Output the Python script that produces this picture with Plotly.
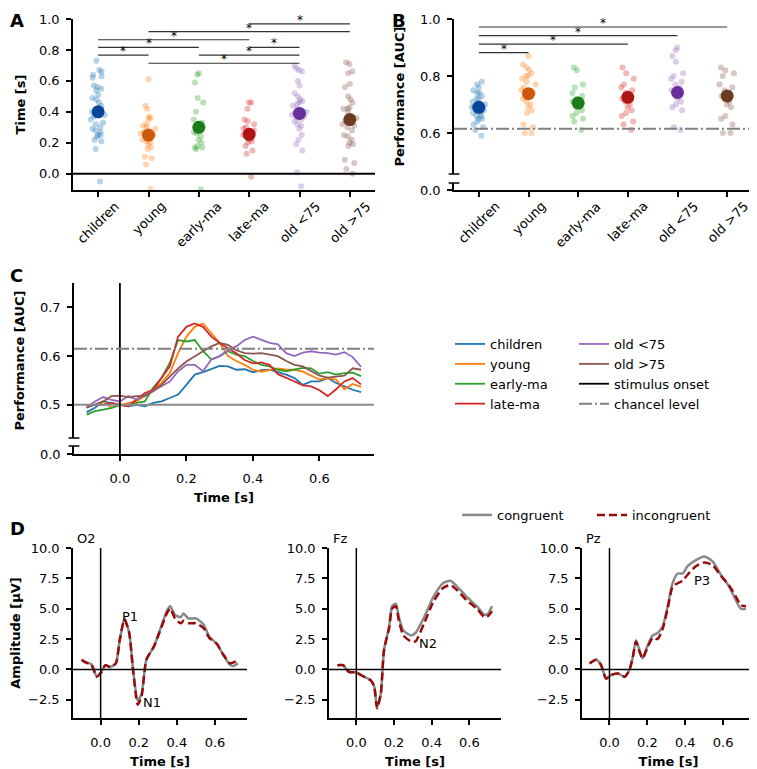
import plotly.graph_objects as go

W, H = 757, 769
OFF = 8  # the page body puts the figure 8 px in from the top-left corner
WF, HF = W - OFF, H - OFF

groups = ['children', 'young', 'early-ma', 'late-ma', 'old <75', 'old >75']
light = ['#1f77b4', '#ff7f0e', '#2ca02c', '#d62728', '#9467bd', '#8c564b']
dark = ['#08449c', '#cc5a0a', '#1b7c1b', '#b01515', '#6a2d9c', '#6b3c1f']

# panel A: peak time per subject [s]
children_time = [0.73, 0.67, 0.66, 0.64, 0.63, 0.62, 0.57, 0.56, 0.55, 0.54, 0.51, 0.49, 0.48, 0.46, 0.44,
                 0.42, 0.41, 0.40, 0.39, 0.38, 0.37, 0.35, 0.33, 0.32, 0.30, 0.29, 0.28, 0.27, 0.25, 0.25,
                 0.24, 0.22, 0.21, 0.16, -0.05]
young_time = [0.61, 0.44, 0.42, 0.37, 0.36, 0.35, 0.32, 0.31, 0.30, 0.29, 0.27, 0.26, 0.25, 0.24, 0.23,
              0.22, 0.21, 0.20, 0.19, 0.17, 0.16, 0.11, 0.10, 0.06, -0.10]
early_time = [0.65, 0.64, 0.59, 0.49, 0.46, 0.40, 0.35, 0.33, 0.31, 0.29, 0.27, 0.26, 0.24, 0.22, 0.20,
              0.18, 0.17, 0.16, 0.17, -0.10]
late_time = [0.46, 0.46, 0.42, 0.35, 0.34, 0.32, 0.30, 0.29, 0.28, 0.27, 0.26, 0.25, 0.24, 0.23, 0.22,
             0.21, 0.20, 0.18, 0.15, 0.13, -0.02]
old1_time = [0.70, 0.68, 0.67, 0.66, 0.60, 0.57, 0.52, 0.50, 0.48, 0.47, 0.46, 0.45, 0.44, 0.42, 0.40,
             0.39, 0.38, 0.37, 0.36, 0.35, 0.34, 0.32, 0.31, 0.29, 0.25, 0.22, 0.19, 0.15, 0.01, -0.08]
old2_time = [0.72, 0.71, 0.66, 0.65, 0.58, 0.56, 0.50, 0.48, 0.46, 0.43, 0.42, 0.42, 0.40, 0.36, 0.34,
             0.32, 0.31, 0.30, 0.28, 0.25, 0.24, 0.22, 0.20, 0.19, 0.18, 0.09, 0.07, 0.03, 0.00]
mean_time = [0.40, 0.25, 0.30, 0.255, 0.39, 0.35]

# significance bars A: from group, to group, height
sig_a_from = [3, 1, 0, 0, 3, 0, 2, 1]
sig_a_to = [5, 5, 3, 2, 4, 1, 4, 4]
sig_a_y = [0.968, 0.918, 0.866, 0.816, 0.816, 0.766, 0.766, 0.714]

# panel B: peak performance per subject [AUC]
children_perf = [0.78, 0.77, 0.76, 0.75, 0.74, 0.74, 0.73, 0.72, 0.72, 0.71, 0.70, 0.70, 0.69, 0.69, 0.68,
                 0.68, 0.67, 0.67, 0.66, 0.66, 0.65, 0.65, 0.64, 0.63, 0.62, 0.61, 0.59]
young_perf = [0.87, 0.84, 0.83, 0.82, 0.81, 0.80, 0.80, 0.79, 0.78, 0.77, 0.76, 0.75, 0.74, 0.74, 0.73,
              0.72, 0.71, 0.70, 0.69, 0.68, 0.67, 0.63, 0.62, 0.60, 0.60]
early_perf = [0.83, 0.82, 0.77, 0.76, 0.74, 0.73, 0.72, 0.71, 0.71, 0.70, 0.70, 0.69, 0.68, 0.67, 0.66,
              0.65, 0.64, 0.61]
late_perf = [0.83, 0.81, 0.79, 0.77, 0.76, 0.75, 0.74, 0.73, 0.72, 0.71, 0.70, 0.69, 0.68, 0.67, 0.66,
             0.64, 0.63, 0.61]
old1_perf = [0.90, 0.89, 0.87, 0.85, 0.81, 0.80, 0.79, 0.78, 0.77, 0.76, 0.75, 0.74, 0.73, 0.72, 0.71,
             0.70, 0.69, 0.68, 0.62, 0.61]
old2_perf = [0.83, 0.82, 0.81, 0.80, 0.77, 0.76, 0.75, 0.74, 0.73, 0.72, 0.71, 0.70, 0.69, 0.66, 0.65,
             0.63, 0.60, 0.60]
mean_perf = [0.69, 0.738, 0.705, 0.725, 0.742, 0.73]
chance_level = 0.615

sig_b_from = [0, 0, 0, 0]
sig_b_to = [5, 4, 3, 1]
sig_b_y = [0.972, 0.942, 0.912, 0.882]

# panel C: decoding time course
t_c = [-0.1, -0.075, -0.05, -0.025, 0.0, 0.025, 0.05, 0.075, 0.1, 0.125, 0.15, 0.175, 0.2, 0.225, 0.25,
       0.275, 0.3, 0.325, 0.35, 0.375, 0.4, 0.425, 0.45, 0.475, 0.5, 0.525, 0.55, 0.575, 0.6, 0.625,
       0.65, 0.675, 0.7, 0.725]
children_c = [0.485, 0.494, 0.507, 0.504, 0.500, 0.497, 0.500, 0.497, 0.504, 0.507, 0.514, 0.521, 0.541,
              0.562, 0.567, 0.573, 0.580, 0.579, 0.572, 0.573, 0.567, 0.571, 0.572, 0.567, 0.562, 0.555,
              0.541, 0.548, 0.548, 0.555, 0.545, 0.538, 0.531, 0.526]
young_c = [0.497, 0.500, 0.507, 0.494, 0.500, 0.504, 0.507, 0.518, 0.531, 0.545, 0.565, 0.606, 0.640,
           0.660, 0.667, 0.647, 0.627, 0.600, 0.590, 0.582, 0.572, 0.568, 0.572, 0.575, 0.572, 0.572,
           0.568, 0.560, 0.552, 0.555, 0.552, 0.532, 0.543, 0.537]
early_c = [0.480, 0.487, 0.490, 0.494, 0.500, 0.498, 0.504, 0.507, 0.535, 0.555, 0.586, 0.633, 0.630,
           0.633, 0.610, 0.593, 0.600, 0.610, 0.603, 0.600, 0.590, 0.582, 0.579, 0.572, 0.569, 0.572,
           0.576, 0.575, 0.564, 0.567, 0.562, 0.565, 0.566, 0.559]
late_c = [0.497, 0.500, 0.500, 0.504, 0.500, 0.497, 0.511, 0.524, 0.531, 0.555, 0.579, 0.640, 0.660,
          0.667, 0.660, 0.640, 0.627, 0.616, 0.606, 0.592, 0.585, 0.587, 0.582, 0.563, 0.556, 0.548,
          0.540, 0.538, 0.530, 0.518, 0.532, 0.548, 0.555, 0.542]
old1_c = [0.494, 0.507, 0.516, 0.510, 0.507, 0.518, 0.511, 0.520, 0.528, 0.538, 0.548, 0.569, 0.582,
          0.582, 0.569, 0.593, 0.600, 0.612, 0.620, 0.633, 0.640, 0.634, 0.627, 0.624, 0.606, 0.600,
          0.607, 0.610, 0.607, 0.606, 0.603, 0.608, 0.598, 0.578]
old2_c = [0.494, 0.500, 0.507, 0.518, 0.519, 0.516, 0.518, 0.518, 0.528, 0.541, 0.558, 0.575, 0.589,
          0.600, 0.610, 0.620, 0.627, 0.623, 0.612, 0.606, 0.605, 0.606, 0.603, 0.600, 0.590, 0.582,
          0.579, 0.570, 0.560, 0.556, 0.558, 0.560, 0.575, 0.572]

# panel D: ERPs
channels = ['O2', 'Fz', 'Pz']
t_o2 = [-0.1, -0.075, -0.05, -0.02, 0.0, 0.025, 0.05, 0.08, 0.1, 0.125, 0.15, 0.17, 0.195, 0.215, 0.24,
        0.28, 0.31, 0.35, 0.365, 0.39, 0.42, 0.435, 0.46, 0.5, 0.54, 0.57, 0.61, 0.64, 0.68, 0.70, 0.72]
o2_con = [0.8, 0.55, 0.45, -0.6, -0.3, 0.35, 0.2, 0.5, 2.4, 4.2, 3.0, 0.0, -2.6, -2.0, 0.8, 1.9, 3.2,
          4.9, 5.2, 4.5, 4.3, 4.6, 4.2, 4.2, 3.7, 2.7, 2.1, 1.3, 0.36, 0.3, 0.5]
o2_inc = [0.8, 0.55, 0.45, -0.6, -0.3, 0.35, 0.2, 0.5, 2.4, 4.1, 3.0, 0.0, -2.9, -2.2, 0.8, 1.9, 3.1,
          4.7, 5.0, 4.2, 3.8, 4.0, 3.8, 3.8, 3.4, 2.6, 2.1, 1.3, 0.5, 0.6, 0.75]
t_fz = [-0.1, -0.07, -0.04, 0.0, 0.04, 0.077, 0.095, 0.11, 0.13, 0.147, 0.174, 0.19, 0.21, 0.226, 0.25,
        0.29, 0.314, 0.36, 0.41, 0.46, 0.5, 0.53, 0.585, 0.64, 0.68, 0.70, 0.72]
fz_con = [0.35, 0.35, -0.2, -0.25, -0.6, -0.9, -1.4, -3.1, -2.0, 1.6, 3.5, 5.2, 5.4, 4.3, 3.2, 2.8,
          3.0, 4.3, 6.0, 7.1, 7.3, 6.9, 6.0, 5.2, 4.5, 4.6, 5.2]
fz_inc = [0.35, 0.35, -0.2, -0.25, -0.6, -0.9, -1.4, -3.2, -2.0, 1.6, 3.4, 5.0, 5.2, 4.0, 2.8, 2.3,
          2.3, 3.8, 5.6, 6.7, 6.95, 6.6, 5.7, 5.0, 4.3, 4.4, 4.8]
t_pz = [-0.105, -0.07, -0.044, -0.018, 0.01, 0.044, 0.08, 0.105, 0.123, 0.14, 0.158, 0.175, 0.2, 0.228,
        0.254, 0.28, 0.307, 0.333, 0.36, 0.386, 0.412, 0.456, 0.5, 0.544, 0.588, 0.632, 0.667, 0.693, 0.72]
pz_con = [0.5, 0.8, 0.35, -0.75, -0.45, -0.33, -0.6, -0.05, 1.0, 2.4, 1.6, 0.9, 1.9, 2.8, 3.0, 3.5,
          5.2, 7.1, 7.9, 7.9, 8.5, 9.0, 9.3, 8.9, 7.8, 6.8, 5.7, 5.0, 5.0]
pz_inc = [0.5, 0.8, 0.35, -0.75, -0.45, -0.33, -0.6, -0.05, 1.0, 2.3, 1.5, 0.9, 1.8, 2.6, 2.5, 3.3,
          5.0, 6.8, 7.1, 7.3, 7.8, 8.5, 8.8, 8.6, 7.7, 6.9, 6.0, 5.3, 5.2]
peak_labels = ['P1', 'N1', 'N2', 'P3']
peak_t = [0.155, 0.27, 0.38, 0.49]
peak_v = [4.4, -2.7, 2.1, 7.35]
peak_panel = [0, 0, 1, 2]

time_a = [children_time, young_time, early_time, late_time, old1_time, old2_time]
perf_b = [children_perf, young_perf, early_perf, late_perf, old1_perf, old2_perf]
curves_c = [children_c, young_c, early_c, late_c, old1_c, old2_c]
legend_c = ['legend', 'legend', 'legend', 'legend', 'legend3', 'legend3']


def px(x):
    return (x - OFF) / WF


def py(y):
    return 1 - (y - OFF) / HF


def xd(a, b):
    return [px(a), px(b)]


def yd(top, bottom):
    return [py(bottom), py(top)]


ax = dict(showline=True, linewidth=1.5, linecolor='black', ticks='outside', ticklen=5, tickwidth=1.5,
          tickcolor='black', showgrid=False, zeroline=False, automargin=False, ticklabelstandoff=4,
          tickfont=dict(size=13, color='black'))
bold = dict(size=13, color='black')
dashdot = '13px,3px,2px,3px'

fig = go.Figure()

# A and B strips
for xa, ya, data, means in [('x', 'y', time_a, mean_time), ('x2', 'y2', perf_b, mean_perf)]:
    for i, g in enumerate(groups):
        fig.add_trace(go.Box(x=[g] * len(data[i]), y=data[i], xaxis=xa, yaxis=ya, boxpoints='all',
                             jitter=0.65, pointpos=0, fillcolor='rgba(0,0,0,0)', line=dict(width=0),
                             marker=dict(color=light[i], size=6, opacity=0.33), showlegend=False,
                             hoverinfo='y'))
    fig.add_trace(go.Scatter(x=groups, y=means, xaxis=xa, yaxis=ya, mode='markers',
                             marker=dict(color=dark, size=13), showlegend=False))

for xa, ya, f, t, h in [('x', 'y', sig_a_from, sig_a_to, sig_a_y), ('x2', 'y2', sig_b_from, sig_b_to, sig_b_y)]:
    for a, b, yy in zip(f, t, h):
        fig.add_trace(go.Scatter(x=[groups[a], groups[b]], y=[yy, yy], xaxis=xa, yaxis=ya, mode='lines',
                                 line=dict(color='#333333', width=1.2), showlegend=False, hoverinfo='skip'))
        fig.add_annotation(x=(a + b) / 2, y=yy, xref=xa, yref=ya, text='*', showarrow=False,
                           font=dict(size=12, color='black'), yanchor='middle', yshift=4)

# rotated group names, centred under the ticks
for xa, yb in [('x', 'y'), ('x2', 'y3')]:
    for g in groups:
        fig.add_annotation(x=g, y=0, xref=xa, yref=yb + ' domain', text=g, showarrow=False, textangle=-45,
                           xanchor='center', yanchor='top', yshift=-6, font=dict(size=13, color='black'))

# lower halves of the broken axes (B and C)
fig.add_trace(go.Scatter(x=[None], y=[None], xaxis='x2', yaxis='y3', showlegend=False, hoverinfo='skip'))
fig.add_trace(go.Scatter(x=[None], y=[None], xaxis='x3', yaxis='y5', showlegend=False, hoverinfo='skip'))

# C curves
for i, g in enumerate(groups):
    fig.add_trace(go.Scatter(x=t_c, y=curves_c[i], xaxis='x3', yaxis='y4', mode='lines', name=g,
                             line=dict(color=light[i], width=1.8), legend=legend_c[i]))

# D ERPs
erp_t = [t_o2, t_fz, t_pz]
erp_con = [o2_con, fz_con, pz_con]
erp_inc = [o2_inc, fz_inc, pz_inc]
for k in range(3):
    xa, ya = 'x%d' % (4 + k), 'y%d' % (6 + k)
    fig.add_trace(go.Scatter(x=erp_t[k], y=erp_con[k], xaxis=xa, yaxis=ya, mode='lines', name='congruent',
                             line=dict(color='#888888', width=2.5, shape='spline', smoothing=0.6),
                             legend='legend2', showlegend=(k == 0)))
    fig.add_trace(go.Scatter(x=erp_t[k], y=erp_inc[k], xaxis=xa, yaxis=ya, mode='lines', name='incongruent',
                             line=dict(color='#9b0a0a', width=2.5, dash='8px,4px', shape='spline', smoothing=0.6),
                             legend='legend2', showlegend=(k == 0)))
    fig.add_shape(type='line', xref=xa + ' domain', yref=ya, x0=0, x1=1, y0=0, y1=0,
                  line=dict(color='black', width=1.5))
    fig.add_shape(type='line', xref=xa, yref=ya + ' domain', x0=0, x1=0, y0=0, y1=1,
                  line=dict(color='black', width=1.5))
    fig.add_annotation(xref=xa + ' domain', yref=ya + ' domain', x=0.01, y=1, text=channels[k],
                       showarrow=False, xanchor='left', yanchor='bottom', font=dict(size=13, color='black'))

for lab, tt, vv, p in zip(peak_labels, peak_t, peak_v, peak_panel):
    fig.add_annotation(xref='x%d' % (4 + p), yref='y%d' % (6 + p), x=tt, y=vv, text=lab, showarrow=False,
                       font=dict(size=13, color='black'))

# reference lines
fig.add_shape(type='line', xref='x domain', yref='y', x0=0, x1=1, y0=0, y1=0, line=dict(color='black', width=2))
fig.add_shape(type='line', xref='x2 domain', yref='y2', x0=0, x1=1, y0=chance_level, y1=chance_level,
              line=dict(color='#808080', width=2, dash=dashdot))
fig.add_shape(type='line', xref='x3 domain', yref='y4', x0=0, x1=1, y0=0.5, y1=0.5,
              line=dict(color='#8c8c8c', width=2))
fig.add_shape(type='line', xref='x3', yref='paper', x0=0, x1=0, y0=py(454), y1=py(283),
              line=dict(color='black', width=1.8), showlegend=True, name='stimulus onset', legend='legend3')
fig.add_shape(type='line', xref='x3 domain', yref='y4', x0=0, x1=1, y0=chance_level, y1=chance_level,
              line=dict(color='#808080', width=2, dash=dashdot), showlegend=True, name='chancel level',
              legend='legend3')

# axis break caps
for xa, up, low in [('x2', 'y2', 'y3'), ('x3', 'y4', 'y5')]:
    fig.add_shape(type='line', xref=xa + ' domain', yref=up + ' domain', x0=-0.018, x1=0.018, y0=0, y1=0,
                  line=dict(color='black', width=1.5))
    fig.add_shape(type='line', xref=xa + ' domain', yref=low + ' domain', x0=-0.018, x1=0.018, y0=1, y1=1,
                  line=dict(color='black', width=1.5))

cat_ax = dict(ax, type='category', categoryarray=groups, range=[-0.5, 5.5], showticklabels=False)
tick01 = dict(tickformat='.1f')
d_x = dict(ax, range=[-0.145, 0.768], tickvals=[0, 0.2, 0.4, 0.6], tickformat='.1f', ticklabelstandoff=7,
           title=dict(text='<b>Time [s]</b>', font=bold, standoff=8))
d_y = dict(ax, range=[-4, 10], tickvals=[-2.5, 0, 2.5, 5, 7.5, 10], tickformat='.1f')

letters = [('A', 8, 8), ('B', 390, 8), ('C', 8, 263), ('D', 8, 516)]
for txt, lx, ly in letters:
    fig.add_annotation(xref='paper', yref='paper', x=px(lx), y=py(ly), text='<b>%s</b>' % txt,
                       showarrow=False, xanchor='left', yanchor='top', font=dict(size=18, color='black'))

leg = dict(xanchor='left', yanchor='top', font=dict(size=13), bgcolor='rgba(0,0,0,0)', tracegroupgap=0)

fig.update_layout(
    width=WF, height=HF, margin=dict(l=0, r=0, t=0, b=0, autoexpand=False), plot_bgcolor='white',
    paper_bgcolor='white', font=dict(family='DejaVu Sans', size=13, color='black'), boxmode='overlay',
    xaxis=dict(cat_ax, domain=xd(73, 375), anchor='y'),
    yaxis=dict(ax, **tick01, domain=yd(19, 190), anchor='x', range=[-0.105, 1.0],
               tickvals=[0, 0.2, 0.4, 0.6, 0.8, 1.0],
               title=dict(text='<b>Time [s]</b>', font=bold, standoff=10)),
    xaxis2=dict(cat_ax, domain=xd(454, 752), anchor='y3'),
    yaxis2=dict(ax, **tick01, domain=yd(19, 174), anchor='x2', range=[0.456, 1.0], tickvals=[0.6, 0.8, 1.0],
                title=dict(text='<b>Performance [AUC]</b>', font=bold, standoff=12)),
    yaxis3=dict(ax, **tick01, domain=yd(183, 190), anchor='x2', range=[0, 0.03], tickvals=[0]),
    xaxis3=dict(ax, domain=xd(74, 374), anchor='y5', range=[-0.138, 0.764], tickvals=[0, 0.2, 0.4, 0.6],
                tickformat='.1f', ticklabelstandoff=7, title=dict(text='<b>Time [s]</b>', font=bold, standoff=8)),
    yaxis4=dict(ax, **tick01, domain=yd(283, 438), anchor='x3', range=[0.432, 0.75], tickvals=[0.5, 0.6, 0.7],
                title=dict(text='<b>Performance [AUC]</b>', font=bold, standoff=12)),
    yaxis5=dict(ax, **tick01, domain=yd(446, 454), anchor='x3', range=[0, 0.02], tickvals=[0]),
    xaxis4=dict(d_x, domain=xd(73, 247), anchor='y6'),
    xaxis5=dict(d_x, domain=xd(329, 501), anchor='y7'),
    xaxis6=dict(d_x, domain=xd(582, 755), anchor='y8'),
    yaxis6=dict(d_y, domain=yd(548, 718), anchor='x4',
                title=dict(text='<b>Amplitude [µV]</b>', font=bold, standoff=19)),
    yaxis7=dict(d_y, domain=yd(548, 718), anchor='x5'),
    yaxis8=dict(d_y, domain=yd(548, 718), anchor='x6'),
    legend=dict(leg, x=px(450), y=py(329)),
    legend3=dict(leg, x=px(574), y=py(329)),
    legend2=dict(leg, x=px(457), y=py(500), orientation='h', entrywidth=90),
)

fig.write_html("out.html")
